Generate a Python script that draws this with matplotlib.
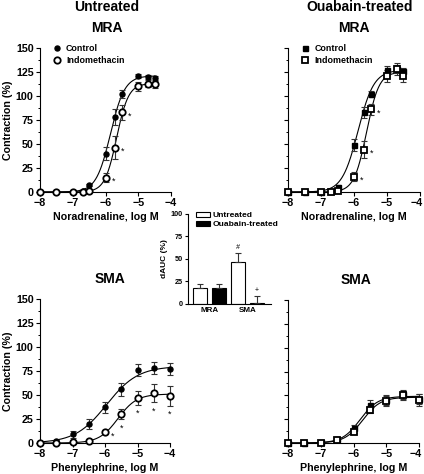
import numpy as np
import matplotlib
matplotlib.use('Agg')
import matplotlib.pyplot as plt
import matplotlib.transforms as mtransforms
from matplotlib.ticker import MultipleLocator
from matplotlib.lines import Line2D

plt.rcParams['font.family'] = ['Liberation Sans', 'DejaVu Sans']
plt.rcParams['font.weight'] = 'bold'
plt.rcParams['axes.labelweight'] = 'bold'
plt.rcParams['axes.linewidth'] = 0.8

# ---------------- data ----------------
mra_logc = [-8, -7.5, -7, -6.7, -6.5, -6, -5.7, -5.5, -5, -4.7, -4.5]
mra_unt_ctrl = [0, 0, 0, 1, 7, 40, 78, 102, 121, 120, 119]
mra_unt_ctrl_err = [0, 0, 0, 0, 1, 7, 8, 4, 2, 2, 2]
mra_unt_indo = [0, 0, 0, 0, 1, 15, 46, 83, 110, 113, 112]
mra_unt_indo_err = [0, 0, 0, 0, 1, 5, 12, 8, 5, 4, 4]
mra_oua_ctrl = [0, 0, 0, 1, 5, 49, 83, 102, 127, 128, 126]
mra_oua_ctrl_err = [0, 0, 0, 1, 2, 6, 6, 3, 4, 6, 3]
mra_oua_indo = [0, 0, 0, 0, 1, 16, 44, 86, 121, 128, 121]
mra_oua_indo_err = [0, 0, 0, 0, 1, 5, 9, 6, 6, 4, 6]

sma_logc = [-8, -7.5, -7, -6.5, -6, -5.5, -5, -4.5, -4]
sma_unt_ctrl = [0, 2, 9, 20, 37, 56, 76, 78, 77]
sma_unt_ctrl_err = [0, 1, 4, 5, 6, 7, 6, 6, 6]
sma_unt_indo = [0, 0, 1, 2.5, 11, 30, 47, 52, 49]
sma_unt_indo_err = [0, 0, 1, 1, 2, 5, 7, 9, 10]
sma_oua_ctrl = [0, 0, 1, 4, 16, 40, 45, 51, 46]
sma_oua_ctrl_err = [0, 0, 1, 2, 3, 5, 5, 5, 5]
sma_oua_indo = [0, 0, 0, 3, 12, 35, 44, 50, 45]
sma_oua_indo_err = [0, 0, 0, 1, 2, 4, 5, 5, 6]

# Hill fit parameters: bottom, top, logEC50, slope
fit_mra_unt_ctrl = [0, 121, -5.85, 2.0]
fit_mra_unt_indo = [0, 113, -5.66, 2.4]
fit_mra_oua_ctrl = [0, 127, -5.88, 1.8]
fit_mra_oua_indo = [0, 125, -5.62, 2.3]
fit_sma_unt_ctrl = [0, 80, -5.95, 0.9]
fit_sma_unt_indo = [0, 51, -5.6, 1.5]
fit_sma_oua_ctrl = [0, 49, -5.8, 1.6]
fit_sma_oua_indo = [0, 48, -5.72, 1.6]

# significant concentrations (indomethacin vs control)
sig_mra_unt = [-6, -5.7, -5.5]
sig_mra_oua = [-6, -5.7, -5.5]
sig_sma_unt = [-6, -5.5, -5, -4.5, -4]
sig_sma_unt_place = ['right', 'below', 'below', 'below', 'below']

# inset dAUC
auc_categories = ['MRA', 'SMA']
auc_untreated = [17, 47]
auc_untreated_err = [5, 9]
auc_ouabain = [17, 0.5]
auc_ouabain_err = [5, 8]
auc_untreated_marks = ['', '#']
auc_ouabain_marks = ['', '+']

FS_TICK = 7.7
FS_LAB = 7.7
FS_LEG = 6.4


def hill(x, p):
    b, t, ec, h = p
    return b + (t - b) / (1 + 10 ** ((ec - x) * h))


fig = plt.figure(figsize=(4.24, 4.74), dpi=100)
W, H = 424.0, 474.0


def axes_px(x0, x1, ytop, ybot):
    return fig.add_axes([x0 / W, 1 - ybot / H, (x1 - x0) / W, (ybot - ytop) / H])


def panel(ax, logc, ctrl, ctrl_err, indo, indo_err, fc, fi, xend, mk_c, mk_i,
          sig, sig_place, xlabel, ylabels, legend, shift_last=False):
    xs = np.linspace(-8, xend, 300)
    ax.plot(xs, hill(xs, fc), color='black', lw=0.8, zorder=2)
    ax.plot(xs, hill(xs, fi), color='black', lw=0.8, zorder=2)
    ax.errorbar(logc, ctrl, yerr=ctrl_err, fmt='none', ecolor='#333333',
                elinewidth=0.8, capsize=2.2, capthick=0.8, zorder=3, clip_on=False)
    ax.errorbar(logc, indo, yerr=indo_err, fmt='none', ecolor='#333333',
                elinewidth=0.8, capsize=2.2, capthick=0.8, zorder=3, clip_on=False)
    ax.plot(logc, ctrl, linestyle='none', marker=mk_c, ms=3.6, mfc='black',
            mec='black', zorder=5, clip_on=False)
    ax.plot(logc, indo, linestyle='none', marker=mk_i, ms=4.6, mfc='white',
            mec='black', mew=1.3, zorder=6, clip_on=False)
    for i, s in enumerate(sig):
        k = logc.index(s)
        place = sig_place[i] if sig_place else 'right'
        if place == 'right':
            ax.annotate('*', (logc[k], indo[k]), xytext=(5.5, -2.5),
                        textcoords='offset points', ha='center', va='center',
                        fontsize=6.5, fontweight='normal')
        else:
            ax.annotate('*', (logc[k], indo[k] - indo_err[k]), xytext=(0, -6.5),
                        textcoords='offset points', ha='center', va='center',
                        fontsize=6.5, fontweight='normal')
    ax.set_xlim(-8, -4)
    ax.set_ylim(0, 150)
    ax.set_xticks([-8, -7, -6, -5, -4])
    ax.yaxis.set_major_locator(MultipleLocator(25))
    ax.yaxis.set_minor_locator(MultipleLocator(12.5))
    ax.tick_params(axis='both', which='major', length=3, width=0.8,
                   labelsize=FS_TICK, pad=1.5)
    ax.tick_params(axis='y', which='minor', length=1.8, width=0.7)
    for s in ['top', 'right']:
        ax.spines[s].set_visible(False)
    ax.set_xlabel(xlabel, fontsize=FS_LAB, labelpad=2.5)
    if ylabels:
        ax.set_ylabel('Contraction (%)', fontsize=FS_LAB, labelpad=2)
    else:
        ax.tick_params(axis='y', labelleft=False)
    if shift_last:
        lab = ax.get_xticklabels()[-1]
        lab.set_transform(lab.get_transform() +
                          mtransforms.ScaledTranslation(-3 / 100, 0, fig.dpi_scale_trans))
    if legend:
        handles = [Line2D([], [], ls='none', marker=mk_c, ms=3.6, mfc='black', mec='black'),
                   Line2D([], [], ls='none', marker=mk_i, ms=4.6, mfc='white', mec='black', mew=1.3)]
        ax.legend(handles, ['Control', 'Indomethacin'], loc='upper left',
                  bbox_to_anchor=(0.05, 1.07), frameon=False, fontsize=FS_LEG,
                  handlelength=1.0, handletextpad=0.5, labelspacing=0.35,
                  borderpad=0.2)


ax1 = axes_px(40, 171, 48, 192)
panel(ax1, mra_logc, mra_unt_ctrl, mra_unt_ctrl_err, mra_unt_indo, mra_unt_indo_err,
      fit_mra_unt_ctrl, fit_mra_unt_indo, -4.5, 'o', 'o', sig_mra_unt, None,
      'Noradrenaline, log M', True, True)
ax2 = axes_px(288, 420, 48, 192)
panel(ax2, mra_logc, mra_oua_ctrl, mra_oua_ctrl_err, mra_oua_indo, mra_oua_indo_err,
      fit_mra_oua_ctrl, fit_mra_oua_indo, -4.5, 's', 's', sig_mra_oua, None,
      'Noradrenaline, log M', False, True, shift_last=True)
ax3 = axes_px(40, 170, 299, 443)
panel(ax3, sma_logc, sma_unt_ctrl, sma_unt_ctrl_err, sma_unt_indo, sma_unt_indo_err,
      fit_sma_unt_ctrl, fit_sma_unt_indo, -4, 'o', 'o', sig_sma_unt, sig_sma_unt_place,
      'Phenylephrine, log M', True, False)
ax4 = axes_px(288, 419, 300, 443)
panel(ax4, sma_logc, sma_oua_ctrl, sma_oua_ctrl_err, sma_oua_indo, sma_oua_indo_err,
      fit_sma_oua_ctrl, fit_sma_oua_indo, -4, 's', 's', [], None,
      'Phenylephrine, log M', False, False, shift_last=True)

# titles
fig.text(106.5 / W, 1 - 7 / H, 'Untreated', ha='center', va='center', fontsize=10)
fig.text(360 / W, 1 - 7 / H, 'Ouabain-treated', ha='center', va='center', fontsize=10)
fig.text(106.7 / W, 1 - 28 / H, 'MRA', ha='center', va='center', fontsize=10)
fig.text(354 / W, 1 - 28 / H, 'MRA', ha='center', va='center', fontsize=10)
fig.text(109.5 / W, 1 - 279 / H, 'SMA', ha='center', va='center', fontsize=10)
fig.text(355.5 / W, 1 - 279.5 / H, 'SMA', ha='center', va='center', fontsize=10)

# inset
axi = axes_px(188, 271, 214, 303.7)
gx = np.arange(len(auc_categories))
off, bw = 0.2526, 0.3526
ekw = dict(elinewidth=0.8, capsize=2.0, capthick=0.8, ecolor='#333333')
axi.bar(gx - off, auc_untreated, bw, color='white', edgecolor='black', lw=0.8,
        yerr=[[0] * len(gx), auc_untreated_err], error_kw=ekw, label='Untreated')
axi.bar(gx + off, auc_ouabain, bw, color='black', edgecolor='black', lw=0.8,
        yerr=[[0] * len(gx), auc_ouabain_err], error_kw=ekw, label='Ouabain-treated')
for i in range(len(gx)):
    if auc_untreated_marks[i]:
        axi.annotate(auc_untreated_marks[i], (gx[i] - off, auc_untreated[i] + auc_untreated_err[i]),
                     xytext=(0, 4.5), textcoords='offset points', ha='center', va='center',
                     fontsize=5, fontweight='normal', fontstyle='italic')
    if auc_ouabain_marks[i]:
        axi.annotate(auc_ouabain_marks[i], (gx[i] + off, auc_ouabain[i] + auc_ouabain_err[i]),
                     xytext=(0, 4), textcoords='offset points', ha='center', va='center',
                     fontsize=5, fontweight='normal')
axi.set_xlim(-0.568, 1.616)
axi.set_ylim(0, 100)
axi.set_xticks(gx)
axi.set_xticklabels(auc_categories)
axi.yaxis.set_major_locator(MultipleLocator(25))
axi.tick_params(axis='y', length=2.5, width=0.8, labelsize=5.2, pad=1.5)
axi.tick_params(axis='x', length=0, labelsize=5.8, pad=2.5)
for s in ['top', 'right']:
    axi.spines[s].set_visible(False)
axi.set_ylabel('dAUC (%)', fontsize=6, labelpad=2)
axi.legend(loc='upper left', bbox_to_anchor=(0.04, 1.08), frameon=False, fontsize=6.1,
           handlelength=1.6, handleheight=0.5, handletextpad=0.3, labelspacing=0.2,
           borderpad=0.1)

fig.savefig('out.png', dpi=100)
